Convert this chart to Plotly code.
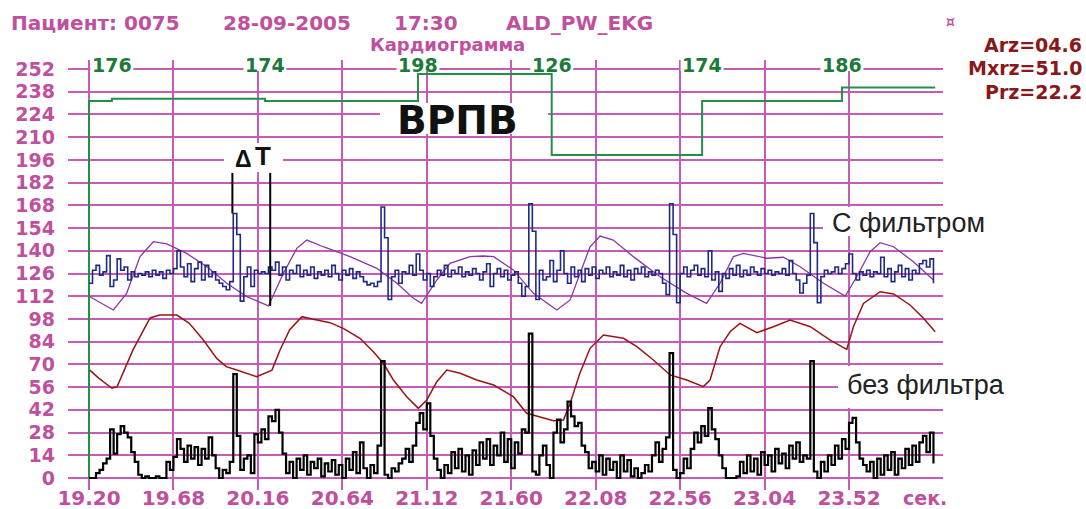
import plotly.graph_objects as go

# ---------------- data ----------------
# sampled ECG channels (one value every SAMPLE_STEP seconds from T_START)
T_START = 19.20
SAMPLE_STEP = 0.02

ecg_filtered = [
    120, 128, 131, 125, 127, 137, 118, 122, 135, 128,
    130, 122, 127, 124, 126, 125, 127, 124, 128, 125,
    127, 123, 128, 126, 129, 140, 130, 124, 132, 121,
    129, 133, 122, 131, 124, 127, 122, 120, 118, 116,
    121, 163, 150, 109, 124, 130, 118, 128, 126, 127,
    126, 130, 128, 133, 125, 130, 122, 128, 126, 131,
    124, 128, 125, 130, 123, 127, 125, 128, 124, 131,
    126, 122, 128, 125, 129, 123, 127, 124, 121, 119,
    120, 118, 121, 167, 148, 110, 124, 128, 120, 127,
    126, 131, 125, 138, 128, 122, 126, 118, 124, 128,
    125, 131, 124, 128, 126, 130, 124, 127, 125, 129,
    126, 122, 127, 132, 118, 126, 129, 124, 128, 122,
    125, 127, 120, 112, 118, 169, 152, 110, 128, 122,
    124, 134, 121, 128, 140, 126, 120, 130, 124, 128,
    121, 129, 125, 130, 123, 128, 126, 130, 124, 127,
    125, 131, 124, 128, 122, 129, 126, 130, 124, 127,
    125, 128, 126, 120, 113, 169, 150, 108, 126, 130,
    124, 128, 131, 125, 129, 124, 140, 122, 127, 115,
    126, 123, 129, 125, 131, 124, 128, 125, 130, 127,
    125, 129, 126, 128, 125, 127, 126, 129, 125, 134,
    126, 122, 114, 120, 125, 163, 145, 108, 124, 128,
    126, 127, 130, 126, 129, 132, 138, 126, 122, 127,
    125, 128, 124, 127, 126, 136, 124, 129, 121, 127,
    131, 124, 129, 122, 128, 126, 132, 134, 130, 135,
    120,
]

ecg_raw = [
    0, 0, 3, 5, 9, 12, 30, 15, 27, 32,
    28, 25, 16, 10, 2, 0, 1, 0, 0, 1,
    0, 0, 10, 5, 13, 24, 18, 10, 20, 12,
    19, 8, 18, 12, 25, 14, 6, 0, 5, 3,
    10, 64, 26, 5, 12, 14, 3, 27, 22, 30,
    24, 38, 35, 42, 28, 15, 3, 10, 0, 12,
    5, 14, 2, 10, 6, 12, 1, 9, 4, 11,
    2, 8, 0, 12, 5, 16, 3, 22, 6, 0,
    8, 3, 20, 72, 2, 0, 6, 4, 9, 12,
    18, 10, 20, 34, 40, 30, 46, 26, 12, 5,
    0, 8, 3, 16, 6, 18, 4, 14, 2, 17,
    8, 22, 12, 24, 8, 20, 14, 28, 10, 24,
    6, 22, 15, 30, 28, 89, 4, 2, 14, 20,
    8, 0, 28, 36, 22, 30, 47, 38, 32, 34,
    20, 16, 6, 10, 4, 14, 2, 12, 5, 10,
    0, 14, 4, 11, 1, 6, 0, 3, 8, 4,
    14, 22, 10, 18, 25, 77, 5, 0, 3, 12,
    6, 18, 28, 22, 32, 26, 43, 30, 24, 14,
    6, 0, 0, 0, 1, 10, 3, 14, 4, 12,
    2, 16, 8, 14, 4, 18, 9, 15, 6, 20,
    12, 22, 10, 14, 12, 72, 4, 0, 10, 4,
    14, 8, 20, 12, 24, 18, 34, 37, 22, 12,
    8, 4, 10, 0, 12, 2, 14, 5, 16, 2,
    12, 6, 18, 8, 20, 10, 22, 26, 16, 28,
    9,
]

# slow wave of the filtered channel
slow_wave_t = [
    19.205, 19.338, 19.414, 19.49, 19.566, 19.642, 19.755, 19.87, 19.983, 20.097,
    20.22, 20.305, 20.381, 20.438, 20.532, 20.684, 20.836, 20.95, 21.044, 21.09,
    21.177, 21.252, 21.366, 21.44, 21.50, 21.612, 21.726, 21.859, 21.935, 21.99,
    22.048, 22.105, 22.18, 22.294, 22.446, 22.598, 22.71, 22.787, 22.863, 22.92,
    23.052, 23.147, 23.242, 23.375, 23.498, 23.564, 23.64, 23.697, 23.773, 23.886,
    24.0,
]
slow_wave_v = [
    111.7, 103.5, 113.8, 136.4, 145.6, 144.2, 138.4, 130.2, 120.0, 111.7,
    106.0, 126.1, 141.5, 146.6, 142.5, 136.4, 129.2, 120.0, 110.7, 107.6,
    122.0, 132.3, 136.4, 136.8, 136.4, 128.2, 113.8, 103.5, 109.7, 126.1,
    142.5, 149.1, 146.6, 136.4, 124.0, 113.8, 107.6, 120.0, 136.4, 138.4,
    135.4, 136.0, 130.2, 120.0, 112.1, 124.0, 139.4, 145.0, 142.5, 133.3,
    122.0,
]

# slow wave of the raw channel
raw_wave_t = [
    19.205, 19.25, 19.33, 19.36, 19.45, 19.547, 19.60, 19.70, 19.77, 19.85,
    19.926, 19.98, 20.04, 20.153, 20.24, 20.286, 20.34, 20.41, 20.475, 20.57,
    20.645, 20.74, 20.816, 20.873, 20.93, 21.006, 21.072, 21.12, 21.177, 21.234,
    21.31, 21.404, 21.50, 21.612, 21.688, 21.783, 21.84, 21.897, 21.935, 21.99,
    22.048, 22.124, 22.238, 22.314, 22.408, 22.503, 22.598, 22.692, 22.73, 22.787,
    22.844, 22.90, 22.996, 23.09, 23.185, 23.30, 23.413, 23.507, 23.545, 23.602,
    23.697, 23.773, 23.867, 23.943, 24.01,
]
raw_wave_v = [
    66.5, 62.0, 55.3, 56.3, 78.9, 98.6, 100.4, 100.4, 95.3, 85.0,
    73.7, 68.6, 66.5, 62.4, 66.5, 78.9, 91.2, 99.4, 97.8, 95.7,
    92.2, 86.1, 77.8, 70.7, 60.4, 50.1, 42.9, 48.1, 59.3, 66.5,
    64.5, 60.4, 57.3, 50.1, 39.9, 36.8, 35.3, 35.7, 46.0, 64.5,
    79.9, 88.1, 86.1, 80.9, 72.7, 63.5, 60.4, 56.3, 60.4, 80.9,
    90.1, 95.3, 89.5, 93.2, 97.3, 93.2, 85.0, 79.3, 93.2, 107.6,
    114.8, 113.4, 106.6, 98.4, 90.1,
]

# rate trend: value changes at each time, labelled at the top
rate_times = [19.33, 20.20, 21.07, 21.83, 22.685, 23.48]
rate_labels = [176, 174, 198, 126, 174, 186]
rate_initial = 174
trend_end = 24.01
# trend scale: rate -> level on the chart axis
TREND_REF = ((126, 199.0), (198, 249.0))

# ΔT markers
marker_t = [20.015, 20.23]
marker_low = [163, 106]
marker_high = 188

x_tick_vals = [19.20, 19.68, 20.16, 20.64, 21.12, 21.60, 22.08, 22.56, 23.04, 23.52]
y_tick_vals = list(range(0, 253, 14))

info_lines = ["Arz=04.6", "Mxrz=51.0", "Prz=22.2"]

# ---------------- styling ----------------
W, H = 1086, 509
PLOT_L, PLOT_R, PLOT_T, PLOT_B = 68, 943, 60, 490
X_RANGE = [19.0806, 24.0542]
Y_RANGE = [-7.39, 257.55]

GRID = "#c65cb6"
MAGENTA = "#c0509e"
GREEN = "#23904a"
GREEN_TXT = "#1c7a3a"
NAVY = "#1f2a86"
PURPLE = "#8c35a8"
DARKRED = "#9b1414"
MAROON = "#8a1818"
PIX_FONT = "DejaVu Sans"
SANS = "Liberation Sans, Arial, sans-serif"


def xp(px):
    return (px - PLOT_L) / (PLOT_R - PLOT_L)


def yp(py):
    return (PLOT_B - py) / (PLOT_B - PLOT_T)


def rate_to_level(rate):
    (r0, l0), (r1, l1) = TREND_REF
    return l0 + (rate - r0) * (l1 - l0) / (r1 - r0)


sample_t = [round(T_START + i * SAMPLE_STEP, 3) for i in range(len(ecg_raw))]

fig = go.Figure()

# rate trend (green step line)
trend_x = [T_START, T_START] + rate_times + [trend_end]
trend_y = ([0, rate_to_level(rate_initial)]
           + [rate_to_level(r) for r in rate_labels]
           + [rate_to_level(rate_labels[-1])])
fig.add_trace(go.Scatter(x=trend_x, y=trend_y, mode="lines", line_shape="hv",
                         line=dict(color=GREEN, width=2), hoverinfo="skip"))

fig.add_trace(go.Scatter(x=slow_wave_t, y=slow_wave_v, mode="lines",
                         line=dict(color=PURPLE, width=1.3), hoverinfo="skip"))
fig.add_trace(go.Scatter(x=raw_wave_t, y=raw_wave_v, mode="lines",
                         line=dict(color=DARKRED, width=1.5), hoverinfo="skip"))
fig.add_trace(go.Scatter(x=sample_t, y=ecg_filtered, mode="lines", line_shape="hv",
                         line=dict(color=NAVY, width=1.6), hoverinfo="skip"))
fig.add_trace(go.Scatter(x=sample_t, y=ecg_raw, mode="lines", line_shape="hv",
                         line=dict(color="#000000", width=2.2), hoverinfo="skip"))

# ΔT marker lines
for t, lo in zip(marker_t, marker_low):
    fig.add_trace(go.Scatter(x=[t, t], y=[marker_high, lo], mode="lines",
                             line=dict(color="#000000", width=2), hoverinfo="skip"))

shapes = []
annotations = []


def white_box(x0, x1, y0, y1):
    shapes.append(dict(type="rect", xref="paper", yref="paper",
                       x0=xp(x0), x1=xp(x1), y0=yp(y1), y1=yp(y0),
                       fillcolor="white", line=dict(width=0), layer="above"))


def text(s, x, y, size, color, anchor="left", family=PIX_FONT, bold=True):
    annotations.append(dict(text=s, xref="paper", yref="paper", x=xp(x), y=yp(y),
                            xanchor=anchor, yanchor="middle", showarrow=False,
                            borderpad=0,
                            font=dict(family=family, size=size, color=color,
                                      weight="bold" if bold else "normal")))


# rate labels on the top grid line
for t, r in zip(rate_times, rate_labels):
    shapes.append(dict(type="rect", xref="x", yref="paper",
                       x0=t - 0.122, x1=t + 0.122, y0=yp(71), y1=yp(58),
                       fillcolor="white", line=dict(width=0), layer="above"))
    annotations.append(dict(text=str(r), x=t, y=252, xref="x", yref="y",
                            yshift=4, showarrow=False, borderpad=0,
                            font=dict(family=PIX_FONT, size=19, color=GREEN_TXT,
                                      weight="bold")))

white_box(380, 548, 103, 134)
white_box(224, 283, 143, 172)
white_box(823, 1010, 207, 236)
white_box(838, 1020, 366, 408)

text("Пациент: 0075", 10, 23, 20, MAGENTA)
text("28-09-2005", 222, 23, 20, MAGENTA)
text("17:30", 393, 23, 20, MAGENTA)
text("ALD_PW_EKG", 505, 23, 20, MAGENTA)
text("Кардиограмма", 447, 45, 18, MAGENTA, anchor="center")
text("¤", 950, 22, 14, MAGENTA, anchor="center")
for line, y in zip(info_lines, [45, 68, 92]):
    text(line, 1083, y, 19, MAROON, anchor="right")
text("сек.", 925, 498, 19, MAGENTA, anchor="center")

text("ВРПВ", 457, 120, 39, "#111111", anchor="center")
text("Δ", 243, 159, 23, "#111111", anchor="center", family=SANS)
text("T", 263, 156, 26, "#111111", anchor="center", family=SANS)
text("С фильтром", 831, 223, 27, "#222222", family=SANS, bold=False)
text("без фильтра", 846, 385, 27, "#222222", family=SANS, bold=False)

fig.update_layout(
    width=W, height=H,
    margin=dict(l=PLOT_L, r=W - PLOT_R, t=PLOT_T, b=H - PLOT_B, pad=0),
    paper_bgcolor="white", plot_bgcolor="white",
    showlegend=False,
    shapes=shapes, annotations=annotations,
    xaxis=dict(range=X_RANGE, tickvals=x_tick_vals,
               ticktext=[f"{v:.2f}" for v in x_tick_vals],
               showgrid=True, gridcolor=GRID, gridwidth=2,
               zeroline=False, showline=False, ticks="", automargin=False,
               ticklabelstandoff=-6,
               tickfont=dict(family=PIX_FONT, size=20, color=MAGENTA, weight="bold")),
    yaxis=dict(range=Y_RANGE, tickvals=y_tick_vals,
               ticktext=[str(v) for v in y_tick_vals],
               showgrid=True, gridcolor=GRID, gridwidth=2,
               zeroline=False, showline=False, ticks="", automargin=False,
               ticklabelstandoff=12,
               tickfont=dict(family=PIX_FONT, size=19, color=MAGENTA, weight="bold")),
)

fig.write_html("out.html")
